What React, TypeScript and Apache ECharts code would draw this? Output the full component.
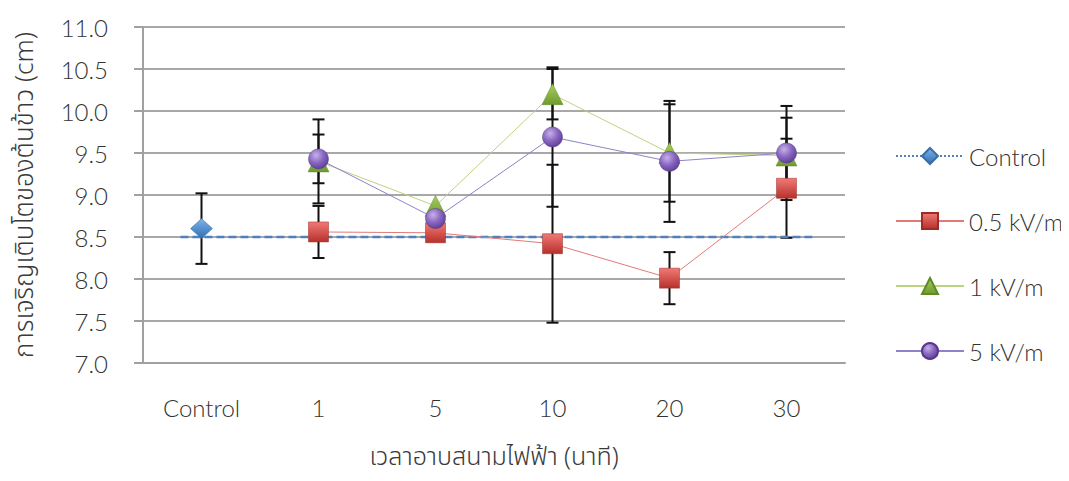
import React, { useEffect, useRef } from "react";
import * as echarts from "echarts";

const categories = ["Control", "1", "5", "10", "20", "30"];
const yTicks = { min: 7, max: 11, interval: 0.5 };

const controlMean = [8.6, null, null, null, null, null];
const controlSd = [0.42, null, null, null, null, null];
const kv05Mean = [null, 8.56, 8.55, 8.42, 8.01, 9.08];
const kv05Sd = [null, 0.31, 0, 0.94, 0.31, 0.59];
const kv1Mean = [null, 9.4, 8.87, 10.2, 9.5, 9.47];
const kv1Sd = [null, 0.5, 0, 0.3, 0.58, 0.45];
const kv5Mean = [null, 9.43, 8.72, 9.69, 9.4, 9.5];
const kv5Sd = [null, 0.29, 0, 0.83, 0.72, 0.56];

const controlBaseline = 8.5;
const controlBaselineExtent = [-0.18, 5.22];

const seriesNames = ["Control", "0.5 kV/m", "1 kV/m", "5 kV/m"];
const yTitle = "การเจริญเติบโตของต้นข้าว (cm)";
const xTitle = "เวลาอาบสนามไฟฟ้า (นาที)";

const FONT = "Lato, 'Noto Sans', sans-serif";
const THAI_FONT = "'Noto Sans Thai', 'Noto Sans Thai Looped', Sarabun, Loma, Garuda, Waree, Umpush, Kinnari, 'Noto Sans', sans-serif";
const TEXT = "#333333";
const FS = 24;
const TITLE_FS = 26;

function errorData(means: (number | null)[], sds: (number | null)[]) {
  const out: number[][] = [];
  means.forEach((m, i) => {
    const s = sds[i];
    if (m != null && s != null && s > 0) out.push([i, m - s, m + s]);
  });
  return out;
}

export default function App() {
  const ref = useRef<HTMLDivElement>(null);
  useEffect(() => {
    if (!ref.current) return;
    const chart = echarts.init(ref.current, undefined, { renderer: "svg" });
    const G = echarts.graphic;
    const blueFill = new G.LinearGradient(0, 0, 0, 1, [
      { offset: 0, color: "#7fb2e8" },
      { offset: 1, color: "#2f6fb5" },
    ]);
    const redFill = new G.LinearGradient(0, 0, 0, 1, [
      { offset: 0, color: "#f07a76" },
      { offset: 1, color: "#b8302b" },
    ]);
    const greenFill = new G.LinearGradient(0, 0, 0, 1, [
      { offset: 0, color: "#a9cf5e" },
      { offset: 1, color: "#6e9a2e" },
    ]);
    const purpleFill = new G.RadialGradient(0.38, 0.32, 0.75, [
      { offset: 0, color: "#c6b1e8" },
      { offset: 0.5, color: "#8a68c2" },
      { offset: 1, color: "#5a3a8e" },
    ]);

    const errRender = (params: any, api: any) => {
      const x = api.value(0);
      const lo = api.coord([x, api.value(1)]);
      const hi = api.coord([x, api.value(2)]);
      const hw = 6;
      const style = { stroke: "#111", lineWidth: 2 };
      return {
        type: "group",
        children: [
          { type: "line", shape: { x1: hi[0], y1: hi[1], x2: lo[0], y2: lo[1] }, style },
          { type: "line", shape: { x1: hi[0] - hw, y1: hi[1], x2: hi[0] + hw, y2: hi[1] }, style },
          { type: "line", shape: { x1: lo[0] - hw, y1: lo[1], x2: lo[0] + hw, y2: lo[1] }, style },
        ],
      };
    };

    const errSeries = (id: string, means: any[], sds: any[]) => ({
      type: "custom",
      id,
      renderItem: errRender,
      data: errorData(means, sds),
      encode: { x: 0, y: [1, 2] },
      z: 1,
      silent: true,
    });

    chart.setOption({
      animation: false,
      textStyle: { fontFamily: FONT, color: TEXT, fontWeight: 300 },
      grid: { left: 143, right: 224, top: 27, bottom: 118 },
      legend: {
        data: seriesNames,
        orient: "vertical",
        left: 890,
        top: 137,
        itemWidth: 68,
        itemHeight: 20,
        itemGap: 37,
        textStyle: { fontSize: FS, color: TEXT, lineHeight: 28, fontFamily: FONT, fontWeight: 300 },
      },
      xAxis: [
        {
          type: "category",
          data: categories,
          boundaryGap: true,
          name: xTitle,
          nameLocation: "middle",
          nameGap: 81,
          nameTextStyle: {
            fontSize: 25,
            lineHeight: 26,
            color: "#3a3a3a",
            fontFamily: THAI_FONT,
            fontWeight: 300,
          },
          axisLine: { show: true, lineStyle: { color: "#a0a0a0", width: 2 } },
          axisTick: { show: false },
          axisLabel: { fontSize: FS, color: TEXT, margin: 32, fontFamily: FONT, fontWeight: 300 },
        },
        { type: "value", min: -0.5, max: 5.5, show: false },
      ],
      yAxis: {
        type: "value",
        min: yTicks.min,
        max: yTicks.max,
        interval: yTicks.interval,
        name: yTitle,
        nameLocation: "middle",
        nameGap: 104,
        nameTextStyle: {
          fontSize: TITLE_FS,
          lineHeight: 28,
          color: "#3a3a3a",
          fontFamily: THAI_FONT,
          fontWeight: 300,
        },
        axisLine: { show: true, onZero: false, lineStyle: { color: "#a0a0a0", width: 2 } },
        axisTick: { show: true, length: 9, lineStyle: { color: "#a0a0a0", width: 2 } },
        axisLabel: {
          fontSize: FS,
          color: TEXT,
          margin: 35,
          fontFamily: FONT,
          fontWeight: 300,
          formatter: (v: number) => v.toFixed(1),
        },
        splitLine: { show: true, lineStyle: { color: "#a8a8a8", width: 2 } },
      },
      series: [
        {
          type: "line",
          name: "controlBaseline",
          xAxisIndex: 1,
          data: controlBaselineExtent.map((x) => [x, controlBaseline]),
          showSymbol: false,
          symbol: "none",
          lineStyle: { color: "#4f81bd", width: 2.5, type: [8, 4] },
          z: 2,
          silent: true,
        },
        errSeries("errControl", controlMean, controlSd),
        errSeries("err05", kv05Mean, kv05Sd),
        errSeries("err1", kv1Mean, kv1Sd),
        errSeries("err5", kv5Mean, kv5Sd),
        {
          type: "line",
          name: "Control",
          data: controlMean,
          symbol: "diamond",
          symbolSize: [22, 20],
          itemStyle: { color: blueFill, borderColor: "#3a6ea5", borderWidth: 0.5 },
          lineStyle: { color: "#4f81bd", width: 1, type: "dotted" },
          z: 3,
        },
        {
          type: "line",
          name: "0.5 kV/m",
          data: kv05Mean,
          symbol: "rect",
          symbolSize: 20,
          itemStyle: { color: redFill, borderColor: "#9c2a26", borderWidth: 0.5 },
          lineStyle: { color: "#e07a77", width: 1 },
          z: 4,
        },
        {
          type: "line",
          name: "1 kV/m",
          data: kv1Mean,
          symbol: "triangle",
          symbolSize: 21,
          itemStyle: { color: greenFill, borderColor: "#5f8a25", borderWidth: 0.5 },
          lineStyle: { color: "#bcd37f", width: 1 },
          z: 5,
        },
        {
          type: "line",
          name: "5 kV/m",
          data: kv5Mean,
          symbol: "circle",
          symbolSize: 20,
          itemStyle: { color: purpleFill, borderColor: "#56388a", borderWidth: 0.5 },
          lineStyle: { color: "#8e82c8", width: 1 },
          z: 6,
        },
      ],
    });
    return () => chart.dispose();
  }, []);
  return <div ref={ref} style={{ width: 1069, height: 481, marginLeft: -8, marginTop: -8 }} />;
}
